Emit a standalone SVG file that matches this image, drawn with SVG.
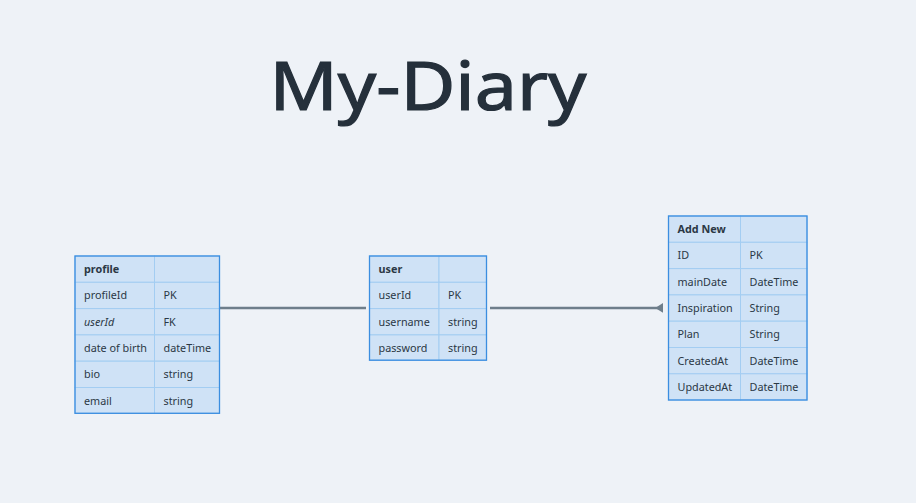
<svg xmlns="http://www.w3.org/2000/svg" width="916" height="503" viewBox="0 0 916 503">
<style>
.bg{fill:#eef2f7}
.title{font-family:"Noto Sans","Liberation Sans",sans-serif;font-size:68px;fill:#25303b;stroke:#25303b;stroke-width:1.2}
.cell{fill:#cfe2f6;stroke:#a3cdf2;stroke-width:1}
.frame{fill:none;stroke:#3b8ee0;stroke-width:1.3}
.t{font-family:"Noto Sans","Liberation Sans",sans-serif;font-size:10.8px;fill:#2b3845}
.h{font-weight:bold}
.i{font-style:italic}
.conn{stroke:#6e7e8b;stroke-width:2.6;fill:none}
</style>
<defs>
<marker id="tri" viewBox="0 0 8 10" refX="8" refY="5" markerWidth="3" markerHeight="4" orient="auto" markerUnits="strokeWidth">
<path d="M0,5 L8,0 L8,10 Z" fill="#6e7e8b"/>
</marker>
</defs>
<rect class="bg" x="0" y="0" width="916" height="503"/>
<text class="title" x="428" y="110" text-anchor="middle" textLength="317" lengthAdjust="spacingAndGlyphs">My-Diary</text>

<g id="connectors">
<line class="conn" x1="220" y1="308" x2="366" y2="308"/>
<line class="conn" x1="490" y1="308" x2="663" y2="308" marker-end="url(#tri)"/>
</g>

<g id="profile">
<rect class="cell" x="75" y="256" width="79.5" height="26.3"/><rect class="cell" x="154.5" y="256" width="65" height="26.3"/>
<rect class="cell" x="75" y="282.3" width="79.5" height="26.3"/><rect class="cell" x="154.5" y="282.3" width="65" height="26.3"/>
<rect class="cell" x="75" y="308.6" width="79.5" height="26.3"/><rect class="cell" x="154.5" y="308.6" width="65" height="26.3"/>
<rect class="cell" x="75" y="334.9" width="79.5" height="26.3"/><rect class="cell" x="154.5" y="334.9" width="65" height="26.3"/>
<rect class="cell" x="75" y="361.2" width="79.5" height="26.3"/><rect class="cell" x="154.5" y="361.2" width="65" height="26.3"/>
<rect class="cell" x="75" y="387.5" width="79.5" height="25.8"/><rect class="cell" x="154.5" y="387.5" width="65" height="25.8"/>
<rect class="frame" x="75" y="256" width="144.5" height="157.3"/>
<text class="t h" x="84" y="273">profile</text>
<text class="t" x="84" y="299">profileId</text><text class="t" x="163.5" y="299">PK</text>
<text class="t i" x="84" y="325.5">userId</text><text class="t" x="163.5" y="325.5">FK</text>
<text class="t" x="84" y="352">date of birth</text><text class="t" x="163.5" y="352">dateTime</text>
<text class="t" x="84" y="378">bio</text><text class="t" x="163.5" y="378">string</text>
<text class="t" x="84" y="404.5">email</text><text class="t" x="163.5" y="404.5">string</text>
</g>

<g id="user">
<rect class="cell" x="369.5" y="256" width="69.5" height="26.3"/><rect class="cell" x="439" y="256" width="47.5" height="26.3"/>
<rect class="cell" x="369.5" y="282.3" width="69.5" height="26.3"/><rect class="cell" x="439" y="282.3" width="47.5" height="26.3"/>
<rect class="cell" x="369.5" y="308.6" width="69.5" height="26.3"/><rect class="cell" x="439" y="308.6" width="47.5" height="26.3"/>
<rect class="cell" x="369.5" y="334.9" width="69.5" height="25.3"/><rect class="cell" x="439" y="334.9" width="47.5" height="25.3"/>
<rect class="frame" x="369.5" y="256" width="117" height="104.2"/>
<text class="t h" x="378.5" y="273">user</text>
<text class="t" x="378.5" y="299">userId</text><text class="t" x="448" y="299">PK</text>
<text class="t" x="378.5" y="325.5">username</text><text class="t" x="448" y="325.5">string</text>
<text class="t" x="378.5" y="352">password</text><text class="t" x="448" y="352">string</text>
</g>

<g id="addnew">
<rect class="cell" x="668.5" y="216" width="72" height="26.3"/><rect class="cell" x="740.5" y="216" width="66.5" height="26.3"/>
<rect class="cell" x="668.5" y="242.3" width="72" height="26.3"/><rect class="cell" x="740.5" y="242.3" width="66.5" height="26.3"/>
<rect class="cell" x="668.5" y="268.6" width="72" height="26.3"/><rect class="cell" x="740.5" y="268.6" width="66.5" height="26.3"/>
<rect class="cell" x="668.5" y="294.9" width="72" height="26.3"/><rect class="cell" x="740.5" y="294.9" width="66.5" height="26.3"/>
<rect class="cell" x="668.5" y="321.2" width="72" height="26.3"/><rect class="cell" x="740.5" y="321.2" width="66.5" height="26.3"/>
<rect class="cell" x="668.5" y="347.5" width="72" height="26.3"/><rect class="cell" x="740.5" y="347.5" width="66.5" height="26.3"/>
<rect class="cell" x="668.5" y="373.8" width="72" height="26.2"/><rect class="cell" x="740.5" y="373.8" width="66.5" height="26.2"/>
<rect class="frame" x="668.5" y="216" width="138.5" height="184"/>
<text class="t h" x="677.5" y="233">Add New</text>
<text class="t" x="677.5" y="259">ID</text><text class="t" x="749.5" y="259">PK</text>
<text class="t" x="677.5" y="285.5">mainDate</text><text class="t" x="749.5" y="285.5">DateTime</text>
<text class="t" x="677.5" y="312">Inspiration</text><text class="t" x="749.5" y="312">String</text>
<text class="t" x="677.5" y="338">Plan</text><text class="t" x="749.5" y="338">String</text>
<text class="t" x="677.5" y="364.5">CreatedAt</text><text class="t" x="749.5" y="364.5">DateTime</text>
<text class="t" x="677.5" y="390.5">UpdatedAt</text><text class="t" x="749.5" y="390.5">DateTime</text>
</g>
</svg>
